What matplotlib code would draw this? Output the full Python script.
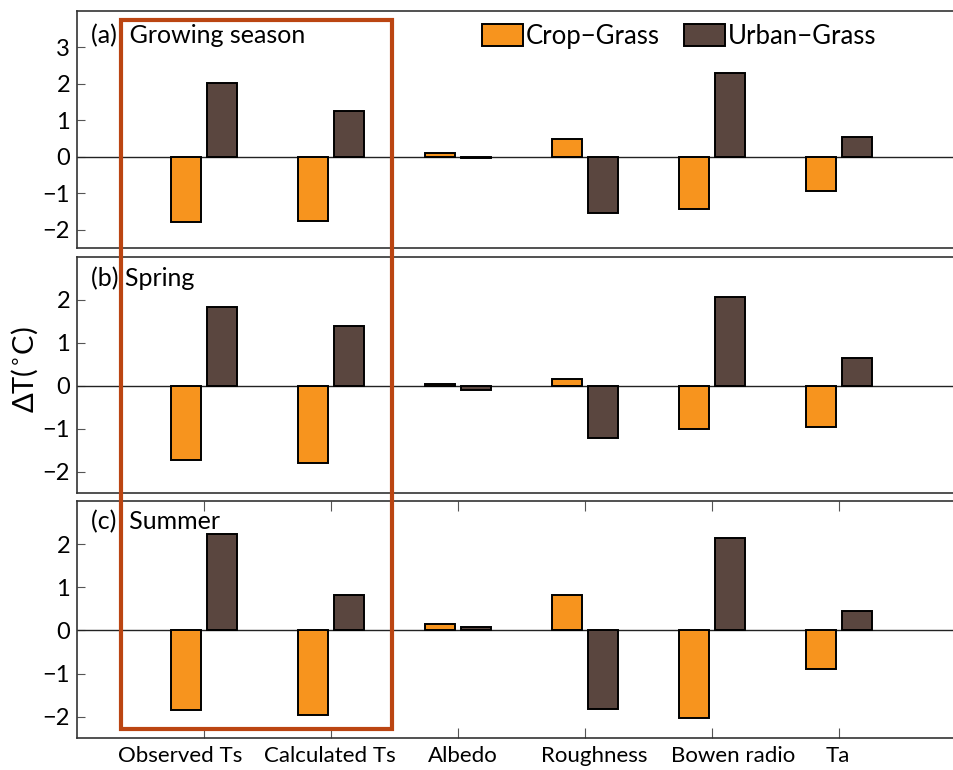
import numpy as np
import matplotlib
matplotlib.use('Agg')
import matplotlib.pyplot as plt
from matplotlib.patches import Rectangle

plt.rcParams['font.family'] = ['Lato', 'DejaVu Sans']

cats = ['Observed Ts', 'Calculated Ts', 'Albedo', 'Roughness', 'Bowen radio', 'Ta']
series = ['Crop\u2212Grass', 'Urban\u2212Grass']
panels = ['(a)  Growing season', '(b) Spring', '(c)  Summer']

crop_grow = [-1.80, -1.77, 0.10, 0.48, -1.42, -0.93]
urban_grow = [2.02, 1.26, -0.03, -1.55, 2.30, 0.55]
crop_spring = [-1.73, -1.80, 0.04, 0.15, -1.00, -0.97]
urban_spring = [1.82, 1.38, -0.11, -1.23, 2.07, 0.64]
crop_summer = [-1.85, -1.96, 0.15, 0.82, -2.03, -0.89]
urban_summer = [2.23, 0.82, 0.07, -1.81, 2.15, 0.45]

crop = [crop_grow, crop_spring, crop_summer]
urban = [urban_grow, urban_spring, urban_summer]
ylims = [(-2.5, 4), (-2.5, 3), (-2.5, 3)]
yticks = [[-2, -1, 0, 1, 2, 3], [-2, -1, 0, 1, 2], [-2, -1, 0, 1, 2]]

c_crop = '#F7941E'
c_urban = '#5A463F'

W, H = 954, 770
fig = plt.figure(figsize=(W / 100, H / 100), dpi=100)

boxes = [(11, 248), (256.7, 493), (501, 738.3)]
left, right = 77, 966
x = np.arange(1, len(cats) + 1)
# the category names sit a little off their ticks in the original
label_shift = [-0.19, -0.01, 0.04, 0.07, 0.17, -0.01]

axes = []
for i, (top, bot) in enumerate(boxes):
    ax = fig.add_axes([left / W, 1 - bot / H, (right - left) / W, (bot - top) / H])
    axes.append(ax)
    ax.bar(x - 0.145, crop[i], 0.235, color=c_crop, edgecolor='black', linewidth=1.4, label=series[0], zorder=3)
    ax.bar(x + 0.145, urban[i], 0.235, color=c_urban, edgecolor='black', linewidth=1.4, label=series[1], zorder=3)
    ax.axhline(0, color='#222222', lw=1.0, zorder=2)
    ax.set_xlim(0, 7)
    ax.set_ylim(*ylims[i])
    ax.set_yticks(yticks[i])
    ax.set_yticklabels([str(t).replace('-', '\u2212') for t in yticks[i]])
    ax.tick_params(axis='y', direction='in', length=6, width=0.8, right=True, labelsize=17, pad=5, color='#555555')
    for s in ax.spines.values():
        s.set_color('#333333')
        s.set_linewidth(1.2)
    ax.text(0.0157, 1 - 24 / 237 if i == 0 else 1 - 21 / 236, panels[i], transform=ax.transAxes,
            fontsize=18, va='center', ha='left')
    if i < 2:
        ax.set_xticks([])
    else:
        ax.set_xticks(x)
        ax.set_xticklabels([])
        ax.tick_params(axis='x', direction='in', length=7, width=0.8, top=True, color='#555555')
        for xi, name, dx in zip(x, cats, label_shift):
            ax.text(xi + dx, -2.5 - 0.17, name, fontsize=16, ha='center', va='top')

axes[0].legend(loc='upper left', bbox_to_anchor=(0.4556, 0.945), frameon=False, ncol=2,
               fontsize=18.5, handlelength=1.6, handleheight=0.95, handletextpad=0.1,
               columnspacing=0.95, borderpad=0, borderaxespad=0)

fig.text(25 / W, 1 - 370 / H, 'ΔT($^{\\circ}$C)', rotation=90, fontsize=21, va='center', ha='center')

# highlight box around the Ts columns
fig.patches.append(Rectangle((121 / W, 1 - 729.3 / H), (392 - 121) / W, (729.3 - 19.5) / H,
                             transform=fig.transFigure, fill=False, edgecolor='#BB4512', linewidth=3, zorder=10))

fig.savefig('out.png', dpi=100)
